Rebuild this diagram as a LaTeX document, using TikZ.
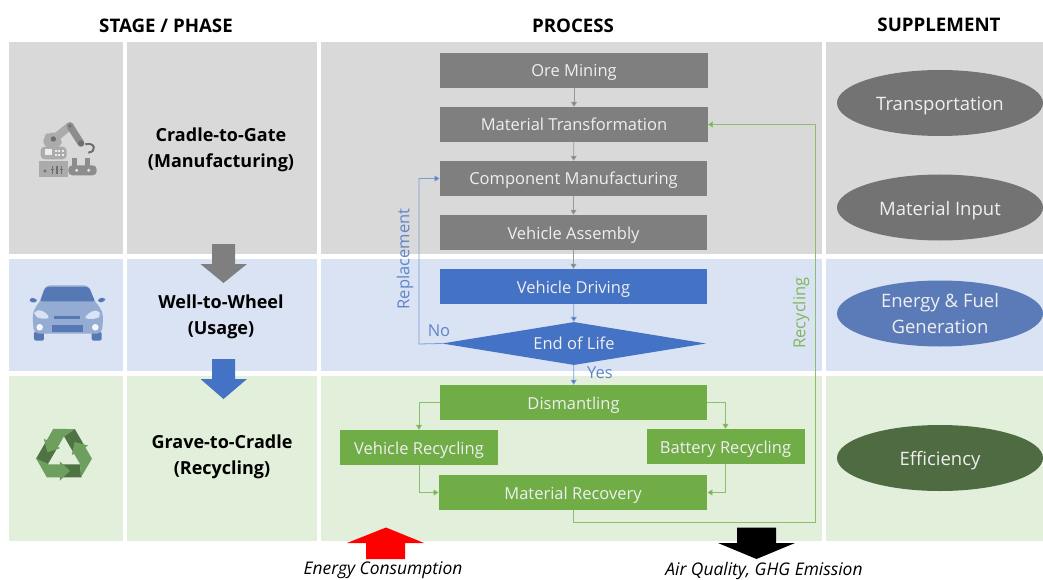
\documentclass[tikz,border=0pt]{standalone}
\usepackage{fontspec}
\setmainfont{Open Sans}
\usetikzlibrary{arrows.meta,shapes.geometric}
\definecolor{bandgray}{HTML}{D9D9D9}
\definecolor{bandblue}{HTML}{D9E3F3}
\definecolor{bandgreen}{HTML}{E2EFDA}
\definecolor{boxgray}{HTML}{7F7F7F}
\definecolor{boxblue}{HTML}{4472C4}
\definecolor{boxgreen}{HTML}{70AD47}
\definecolor{ellgray}{HTML}{737373}
\definecolor{ellblue}{HTML}{5B7BB8}
\definecolor{ellgreen}{HTML}{4E6B41}
\definecolor{linkgray}{HTML}{999999}
\definecolor{linkblue}{HTML}{7C9BD6}
\definecolor{linkgreen}{HTML}{8CBF6C}
\definecolor{txtwhite}{HTML}{EFEFEF}
\definecolor{labblue}{HTML}{5F85CB}
\definecolor{labgreen}{HTML}{82B65F}
\definecolor{recl}{HTML}{6F9F5F}
\definecolor{recd}{HTML}{4F7343}
\definecolor{robl}{HTML}{ABABAB}
\definecolor{robm}{HTML}{8C8C8C}
\definecolor{robd}{HTML}{6E6E6E}
\definecolor{carl}{HTML}{94ABD2}
\definecolor{card}{HTML}{5678B5}
\tikzset{
  x=1pt,y=-1pt,
  procbox/.style={rectangle,minimum height=35pt,inner sep=0pt,text=txtwhite,text height=14pt,text depth=1pt,font=\fontsize{16.5}{20}\selectfont},
  grayb/.style={procbox,fill=boxgray,minimum width=267.5pt},
  blueb/.style={procbox,fill=boxblue,minimum width=267.5pt},
  greenb/.style={procbox,fill=boxgreen},
  ell/.style={ellipse,minimum width=206pt,minimum height=66pt,inner sep=0pt,text=txtwhite,align=center,font=\fontsize{18.5}{26}\selectfont},
  ellone/.style={ell,text height=16pt,text depth=1pt},
  head/.style={font=\bfseries\fontsize{18.7}{22}\selectfont,text=black,inner sep=0pt},
  stage/.style={font=\bfseries\fontsize{18}{26}\selectfont,text=black,align=center,inner sep=0pt},
  bottomlab/.style={font=\itshape\fontsize{17.4}{20}\selectfont,text=black,inner sep=0pt},
  glink/.style={draw=linkgray,line width=0.8pt,-{Triangle[length=5pt,width=6pt,fill=boxgray]}},
  blink/.style={draw=linkblue,line width=0.8pt,-{Triangle[length=5pt,width=6pt,fill=boxblue]}},
  glk/.style={draw=linkgreen,line width=0.8pt,-{Triangle[length=5pt,width=6pt,fill=boxgreen]}},
  lab/.style={inner sep=0pt,font=\fontsize{16.5}{20}\selectfont},
}
\begin{document}
\begin{tikzpicture}
\useasboundingbox (0,0) rectangle (1043,580);
% bands
\foreach \xa/\xb in {9/123,127/317,321/822,826/1043}{
  \fill[bandgray] (\xa,42) rectangle (\xb,254);
  \fill[bandblue] (\xa,259) rectangle (\xb,371);
  \fill[bandgreen] (\xa,375.5) rectangle (\xb,541);
}
% headers
\node[head] (h1) at (166,26) {STAGE / PHASE};
\node[head] (h2) at (573,26) {PROCESS};
\node[head] (h3) at (939,25) {SUPPLEMENT};
% stage labels
\node[stage] (s1) at (221,150) {Cradle-to-Gate\\(Manufacturing)};
\node[stage] (s2) at (221,317) {Well-to-Wheel\\(Usage)};
\node[stage] (s3) at (222,457) {Grave-to-Cradle\\(Recycling)};
% stage arrows
\fill[boxgray] (212,244) -- (235,244) -- (235,264) -- (247,264) -- (223.5,283) -- (200.5,264) -- (212,264) -- cycle;
\fill[boxblue] (212,359) -- (235,359) -- (235,379) -- (247,379) -- (223.5,399) -- (200.5,379) -- (212,379) -- cycle;
% process boxes
\node[grayb] (om) at (574,70.5) {Ore Mining};
\node[grayb] (mt) at (574,124.5) {Material Transformation};
\node[grayb] (cm) at (573.5,178.5) {Component Manufacturing};
\node[grayb] (va) at (573.5,232.5) {Vehicle Assembly};
\node[blueb] (vd) at (573.5,286.5) {Vehicle Driving};
\node[diamond,aspect=6.1,fill=boxblue,minimum width=264pt,minimum height=43pt,inner sep=0pt,text=txtwhite,font=\fontsize{16.5}{20}\selectfont] (el) at (574,343.5) {End of Life};
\node[greenb,minimum width=267.5pt] (di) at (573.5,402.5) {Dismantling};
\node[greenb,minimum width=158pt] (vr) at (419,447.5) {Vehicle Recycling};
\node[greenb,minimum width=158pt] (br) at (725.5,446.5) {Battery Recycling};
\node[greenb,minimum width=268.5pt] (mr) at (573,492.5) {Material Recovery};
% connectors
\draw[glink] (om) -- (mt);
\draw[glink] (mt) -- (cm);
\draw[glink] (cm) -- (va);
\draw[glink] (va) -- (vd);
\draw[blink] (vd) -- (el);
\draw[blink] (el) -- (di);
\coordinate (rp) at (419,344);
\draw[blink] (el.west) -- (rp) |- (cm.west);
\draw[glk] (di.west) -| (vr.north);
\draw[glk] (di.east) -| (br.north);
\draw[glk] (vr.south) |- (mr.west);
\draw[glk] (br.south) |- (mr.east);
\coordinate (r1) at (573,522);
\coordinate (r2) at (815,522);
\draw[glk] (mr.south) -- (r1) -- (r2) |- (mt.east);
% connector labels
\node[lab,text=labblue,rotate=90] (lrep) at (405,259) {Replacement};
\node[lab,text=labgreen,rotate=90] (lrec) at (801,313) {Recycling};
\node[lab,text=labblue] (lno) at (439,331) {No};
\node[lab,text=labblue] (lyes) at (600,373) {Yes};
% supplement
\node[ellone,fill=ellgray] (e1) at (940,103) {Transportation};
\node[ellone,fill=ellgray] (e2) at (940,207.5) {Material Input};
\node[ell,fill=ellblue] (e3) at (940,313.5) {Energy \& Fuel\\Generation};
\node[ellone,fill=ellgreen] (e4) at (940,458) {Efficiency};
% bottom arrows
\fill[red] (386,527.5) -- (424,543) -- (405,543) -- (405,559) -- (366,559) -- (366,543) -- (347,543) -- cycle;
\fill[black] (737,527.5) -- (776,527.5) -- (776,543) -- (795,543) -- (756.5,559) -- (718,543) -- (737,543) -- cycle;
\node[bottomlab] (b1) at (383,570.5) {Energy Consumption};
\node[bottomlab] (b2) at (764,570.5) {Air Quality, GHG Emission};
% robot icon
\begin{scope}[x=0.3333pt,y=-0.3333pt,shift={(60,330)}]
  \draw[robl,line width=8pt,line cap=round] (100,88) -- (150,48);
  \draw[robm,line width=7pt,line cap=round] (150,48) -- (183,100);
  \fill[robl,rounded corners=6pt] (70,112) -- (70,78) -- (85,68) -- (112,68) -- (125,85) -- (125,112) -- cycle;
  \fill[robd] (100,87) circle (8);
  \fill[robd] (150,48) circle (5);
  \fill[robd] (183,100) circle (9);
  \draw[robd,line width=2pt] (196,103) .. controls (225,95) and (232,125) .. (205,128);
  \fill[robl,rounded corners=4pt] (62,110) rectangle (140,148);
  \fill[white!85!gray] (74,118) rectangle (95,135);
  \foreach \a in {105,115,125}{\foreach \b in {120,132}{\fill[white!85!gray] (\a,\b) rectangle +(6,5);}}
  \fill[robl] (57,152) rectangle (145,201);
  \fill[robd] (75,183) circle (5);
  \foreach \a in {97,111,125}{
    \draw[robd,line width=1.2pt] (\a,168) -- (\a,192);
    \draw[robd,line width=1.6pt] (\a-4,178) -- (\a+4,178);
  }
  \fill[robm,rounded corners=4pt] (145,166) rectangle (230,196);
  \fill[robm] (155,145) rectangle (170,168);
  \fill[robm] (195,145) rectangle (210,168);
  \fill[bandgray!80!white] (170,181) circle (5);
  \fill[bandgray!80!white] (206,181) circle (5);
\end{scope}
% car icon
\begin{scope}[x=0.3333pt,y=-0.3333pt,shift={(60,825)}]
  \fill[card,rounded corners=2pt] (42,170) rectangle (72,197);
  \fill[card,rounded corners=2pt] (215,170) rectangle (245,197);
  \fill[card,rounded corners=3pt] (27,70) -- (45,68) -- (54,80) -- (32,84) -- cycle;
  \fill[card,rounded corners=3pt] (233,70) -- (257,68) -- (254,80) -- (236,84) -- cycle;
  \fill[carl,rounded corners=5pt] (42,176) -- (37,120) -- (46,96) -- (60,82) -- (75,31) -- (207,31) -- (225,82) -- (240,96) -- (250,120) -- (246,176) -- cycle;
  \fill[card,rounded corners=2pt] (60,79) -- (77,36) -- (206,36) -- (225,79) -- cycle;
  \fill[bandblue,rounded corners=4pt] (43,107) -- (68,105) -- (92,130) -- (60,132) -- (43,122) -- cycle;
  \fill[bandblue,rounded corners=4pt] (240,107) -- (215,107) -- (190,131) -- (232,132) -- (240,122) -- cycle;
  \fill[card] (103,122) rectangle (179,132);
  \fill[card] (97,150) rectangle (189,170);
  \fill[white!90!carl] (59,157) circle (10);
  \fill[white!90!carl] (226,157) circle (10);
\end{scope}
% recycling icon
\begin{scope}[x=0.3333pt,y=-0.3333pt,shift={(60,1245)}]
  \foreach \r in {0,120,240}{
    \begin{scope}[rotate around={\r:(132,120)}]
      \fill[recd] (125,148) -- (180,148) -- (184,187) -- (125,187) -- cycle;
    \end{scope}
  }
  \foreach \r in {0,120,240}{
    \begin{scope}[rotate around={\r:(132,120)}]
      \fill[recl] (48,130) -- (84,148) -- (120,148) -- (120,140) -- (150,167) -- (120,197) -- (120,187) -- (80.5,187) -- cycle;
    \end{scope}
  }
\end{scope}
\end{tikzpicture}
\end{document}
